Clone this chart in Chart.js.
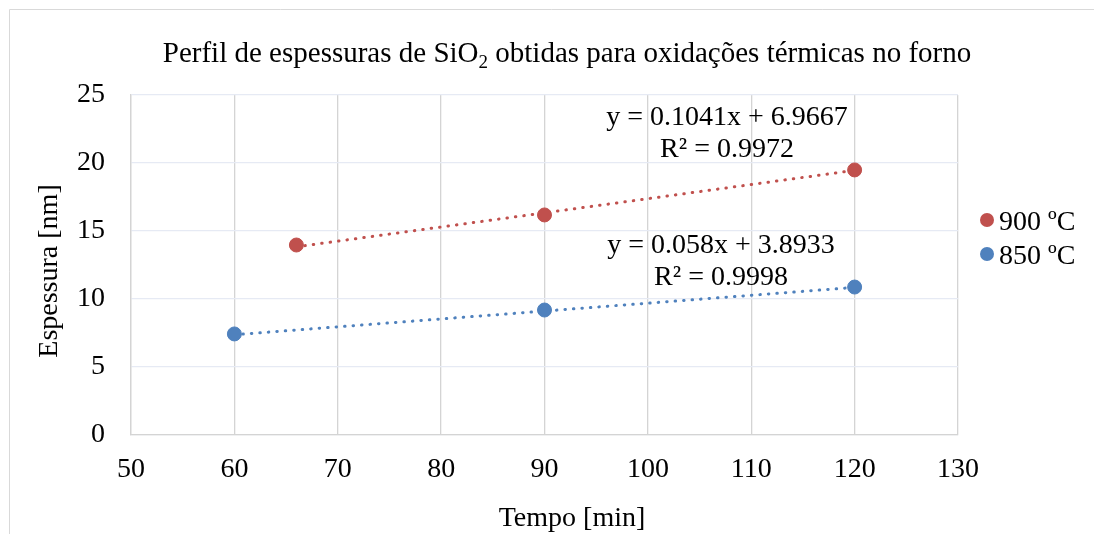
<!DOCTYPE html>
<html>
<head>
<meta charset="utf-8">
<script src="https://cdn.jsdelivr.net/npm/chart.js@4.4.0/dist/chart.umd.min.js"></script>
<style>
  body { margin: 0; background: #fff; }
  canvas { display: block; }
</style>
</head>
<body>
<canvas id="myChart" width="1094" height="534"></canvas>
<script>
// data
var seriesNames = ['900 ºC', '850 ºC'];
var tempo900 = [66, 90, 120];
var esp900 = [13.97, 16.18, 19.49];
var tempo850 = [60, 90, 120];
var esp850 = [7.43, 9.19, 10.88];
// trendline coefficients as printed on the chart
var slopes = [0.1041, 0.058];
var intercepts = [6.9667, 3.8933];
var eqLabels = ['y = 0.1041x + 6.9667', 'y = 0.058x + 3.8933'];
var r2Labels = ['R² = 0.9972', 'R² = 0.9998'];
var xTicks = [50, 60, 70, 80, 90, 100, 110, 120, 130];
var yTicks = [0, 5, 10, 15, 20, 25];

var red = '#C0504D';
var blue = '#4F81BD';
var serif = "'Liberation Serif', 'Times New Roman', serif";

function pts(xs, ys) {
    return xs.map(function (x, i) { return { x: x, y: ys[i] }; });
}
// trendline over the x range of the series
function trend(xs, k) {
    var a = Math.min.apply(null, xs), b = Math.max.apply(null, xs);
    return [{ x: a, y: slopes[k] * a + intercepts[k] }, { x: b, y: slopes[k] * b + intercepts[k] }];
}

// texts drawn around the plot (title w/ subscript, axis titles, legend, equations)
var textPlugin = {
    id: 'texts',
    afterDraw: function (chart) {
        var c = chart.ctx;
        c.save();
        // outer frame (only top/left visible)
        c.strokeStyle = '#d9d9d9';
        c.lineWidth = 1;
        c.beginPath();
        c.moveTo(9.5, 534); c.lineTo(9.5, 9.5); c.lineTo(1094, 9.5);
        c.stroke();

        c.fillStyle = '#000';
        c.textBaseline = 'alphabetic';
        // title
        var big = '29px ' + serif, small = '19px ' + serif;
        var p1 = 'Perfil de espessuras de SiO', p2 = '2', p3 = ' obtidas para oxidações térmicas no forno';
        c.font = big;
        var w1 = c.measureText(p1).width, w3 = c.measureText(p3).width;
        c.font = small;
        var w2 = c.measureText(p2).width;
        var x0 = 567 - (w1 + w2 + w3) / 2;
        c.font = big; c.textAlign = 'left';
        c.fillText(p1, x0, 62);
        c.font = small;
        c.fillText(p2, x0 + w1, 68);
        c.font = big;
        c.fillText(p3, x0 + w1 + w2, 62);

        // axis titles
        c.font = '28px ' + serif;
        c.textAlign = 'center';
        c.fillText('Tempo [min]', 572, 526);
        c.save();
        c.translate(57, 271);
        c.rotate(-Math.PI / 2);
        c.fillText('Espessura [nm]', 0, 0);
        c.restore();

        // trendline equations
        c.fillText(eqLabels[0], 727, 125);
        c.fillText(r2Labels[0], 727, 157);
        c.fillText(eqLabels[1], 721, 253);
        c.fillText(r2Labels[1], 721, 285);

        // legend
        var cols = [red, blue], ly = [220, 254];
        c.textAlign = 'left';
        for (var i = 0; i < 2; i++) {
            c.fillStyle = cols[i];
            c.beginPath();
            c.arc(987, ly[i], 7, 0, Math.PI * 2);
            c.fill();
            c.fillStyle = '#000';
            c.fillText(seriesNames[i], 999, ly[i] + 10);
        }
        c.restore();
    }
};

var ctx = document.getElementById('myChart');
var chart = new Chart(ctx, {
    type: 'scatter',
    data: {
        datasets: [{
            label: seriesNames[0],
            data: pts(tempo900, esp900),
            backgroundColor: red,
            borderColor: red,
            pointRadius: 7,
            pointHoverRadius: 7,
            order: 1
        }, {
            label: seriesNames[1],
            data: pts(tempo850, esp850),
            backgroundColor: blue,
            borderColor: blue,
            pointRadius: 7,
            pointHoverRadius: 7,
            order: 1
        }, {
            label: 'trend 900',
            data: trend(tempo900, 0),
            showLine: true,
            borderColor: red,
            borderWidth: 3,
            borderDash: [0.5, 8],
            borderCapStyle: 'round',
            pointRadius: 0,
            order: 2
        }, {
            label: 'trend 850',
            data: trend(tempo850, 1),
            showLine: true,
            borderColor: blue,
            borderWidth: 3,
            borderDash: [0.5, 8],
            borderCapStyle: 'round',
            pointRadius: 0,
            order: 2
        }]
    },
    options: {
        responsive: false,
        animation: false,
        layout: { padding: { left: 0, top: 95, right: 136, bottom: 0 } },
        plugins: {
            legend: { display: false },
            title: { display: false },
            tooltip: { enabled: false }
        },
        scales: {
            x: {
                type: 'linear',
                min: 50, max: 130,
                afterBuildTicks: function (s) { s.ticks = xTicks.map(function (v) { return { value: v }; }); },
                afterFit: function (s) { s.height = 99; },
                grid: { color: '#d4d4d4', lineWidth: 1.3, drawTicks: false },
                border: { color: '#d4d4d4', width: 1.3 },
                ticks: { color: '#000', font: { family: serif, size: 28 }, padding: 18, maxRotation: 0 }
            },
            y: {
                type: 'linear',
                min: 0, max: 25,
                afterBuildTicks: function (s) { s.ticks = yTicks.map(function (v) { return { value: v }; }); },
                afterFit: function (s) { s.width = 131; },
                grid: { color: '#e6eaf4', lineWidth: 1.3, drawTicks: false },
                border: { color: '#d4d4d4', width: 1.3 },
                ticks: { color: '#000', font: { family: serif, size: 28 }, padding: 26 }
            }
        }
    },
    plugins: [textPlugin]
});
</script>
</body>
</html>
